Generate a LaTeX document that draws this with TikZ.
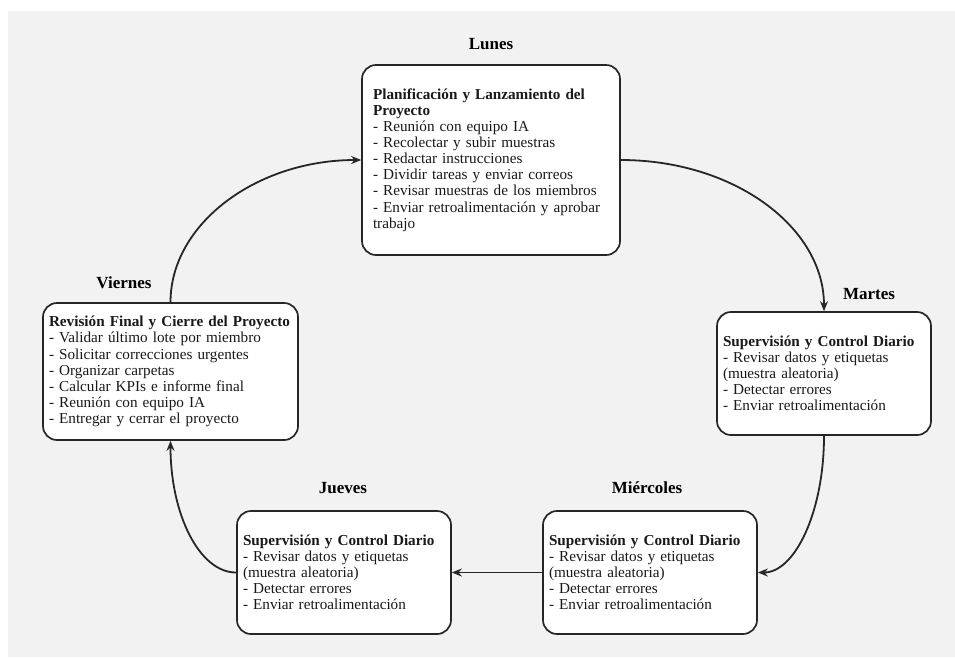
\documentclass[tikz,border=0pt]{standalone}
\usepackage{fontspec}
\setmainfont{Liberation Serif}
\usetikzlibrary{arrows.meta}
\definecolor{bggray}{RGB}{242,242,242}
\definecolor{linec}{RGB}{38,38,38}
\begin{document}
\begin{tikzpicture}[x=1pt,y=1pt,
  daybox/.style={draw=linec, line width=1.7pt, fill=white, rounded corners=14pt, align=left, inner ysep=0pt, font=\fontsize{15.2}{16.1}\selectfont, text=black!90, anchor=center},
  daylabel/.style={font=\fontsize{17}{18}\selectfont\bfseries, inner sep=0pt},
  flow/.style={draw=linec, line width=1.8pt, -{Stealth[length=10pt,width=8pt]}}]

\useasboundingbox (0,0) rectangle (955,-657);
\fill[bggray] (8,-11) rectangle (955,-657);

\node[daybox, minimum width=258pt, minimum height=190pt, inner xsep=11pt, text width=236pt] (lun) at (491,-160)
 {\textbf{Planificación y Lanzamiento del}\\\textbf{Proyecto}\\- Reunión con equipo IA\\- Recolectar y subir muestras\\- Redactar instrucciones\\- Dividir tareas y enviar correos\\- Revisar muestras de los miembros\\- Enviar retroalimentación y aprobar\\trabajo};

\node[daybox, minimum width=214pt, minimum height=123pt, inner xsep=6pt, text width=202pt] (mar) at (824,-373.5)
 {\textbf{Supervisión y Control Diario}\\- Revisar datos y etiquetas\\(muestra aleatoria)\\- Detectar errores\\- Enviar retroalimentación};

\node[daybox, minimum width=214pt, minimum height=123pt, inner xsep=6pt, text width=202pt] (mie) at (650,-572.5)
 {\textbf{Supervisión y Control Diario}\\- Revisar datos y etiquetas\\(muestra aleatoria)\\- Detectar errores\\- Enviar retroalimentación};

\node[daybox, minimum width=214pt, minimum height=123pt, inner xsep=6pt, text width=202pt] (jue) at (344,-572.5)
 {\textbf{Supervisión y Control Diario}\\- Revisar datos y etiquetas\\(muestra aleatoria)\\- Detectar errores\\- Enviar retroalimentación};

\node[daybox, minimum width=255pt, minimum height=137pt, inner xsep=6pt, text width=243pt] (vie) at (170.5,-371.5)
 {\textbf{Revisión Final y Cierre del Proyecto}\\- Validar último lote por miembro\\- Solicitar correcciones urgentes\\- Organizar carpetas\\- Calcular KPIs e informe final\\- Reunión con equipo IA\\- Entregar y cerrar el proyecto};

\node[daylabel] (llun) at (491,-44) {Lunes};
\node[daylabel] (lmar) at (869,-294) {Martes};
\node[daylabel] (lmie) at (647,-488) {Miércoles};
\node[daylabel] (ljue) at (343,-488) {Jueves};
\node[daylabel] (lvie) at (124,-283) {Viernes};

\draw[flow] (vie.north) .. controls +(0,78) and +(-105,0) .. (lun.west);
\draw[flow] (lun.east) .. controls +(113,0) and +(0,84) .. (mar.north);
\draw[flow] (mar.south) .. controls +(0,-76) and +(37,0) .. (mie.east);
\draw[flow] (mie.west) -- (jue.east);
\draw[flow] (jue.west) .. controls +(-37,0) and +(0,-73) .. (vie.south);
\end{tikzpicture}
\end{document}
